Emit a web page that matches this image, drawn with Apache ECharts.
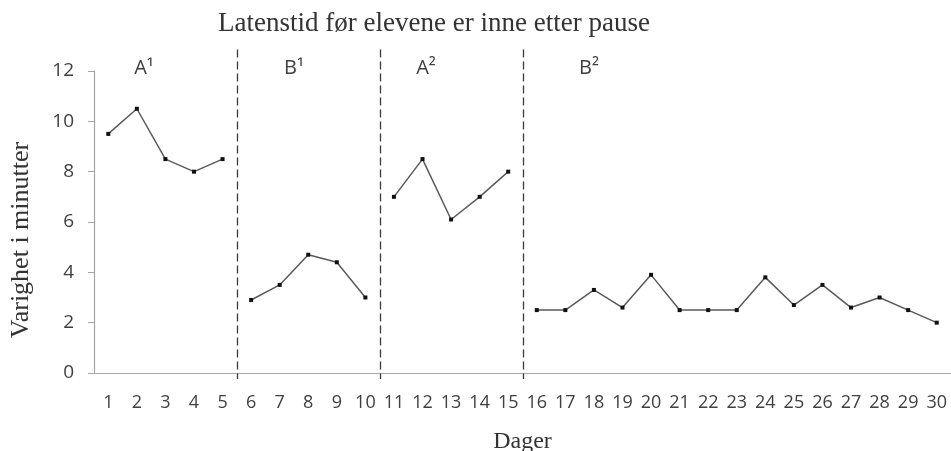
<!DOCTYPE html>
<html><head><meta charset="utf-8">
<script src="https://cdn.jsdelivr.net/npm/echarts@6/dist/echarts.min.js"></script>
<style>html,body{margin:0;padding:0;background:#fff}#c{width:951px;height:451px}</style>
</head><body><div id="c"></div>
<script>
// ---- data ----
const days = ['1','2','3','4','5','6','7','8','9','10','11','12','13','14','15','16','17','18','19','20','21','22','23','24','25','26','27','28','29','30'];
const phaseA1 = [9.5, 10.5, 8.5, 8.0, 8.5];
const phaseB1 = [2.9, 3.5, 4.7, 4.4, 3.0];
const phaseA2 = [7.0, 8.5, 6.1, 7.0, 8.0];
const phaseB2 = [2.5, 2.5, 3.3, 2.6, 3.9, 2.5, 2.5, 2.5, 3.8, 2.7, 3.5, 2.6, 3.0, 2.5, 2.0];
const phaseNames = ['A¹', 'B¹', 'A²', 'B²'];
const yTicks = [0, 2, 4, 6, 8, 10, 12];

// ---- layout constants (annotation placement, not data) ----
const labelDayPos = [1.75, 7.0, 11.62, 17.33]; // in day-widths from left edge
const labelYValue = 12.12;
const dashTopValue = 12.85;

const phases = [phaseA1, phaseB1, phaseA2, phaseB2];
let offset = 0;
const series = phases.map((vals, i) => {
  const data = days.map(() => null);
  vals.forEach((v, j) => { data[offset + j] = v; });
  offset += vals.length;
  return {
    type: 'line', name: phaseNames[i], data: data, connectNulls: false,
    symbol: 'rect', symbolSize: 4, showSymbol: true,
    itemStyle: { color: '#111' },
    lineStyle: { color: '#5a5a5a', width: 1.5 },
    animation: false
  };
});

const chart = echarts.init(document.getElementById('c'));
chart.setOption({
  animation: false,
  title: {
    text: 'Latenstid før elevene er inne etter pause',
    left: 429, top: 5, textAlign: 'center',
    textStyle: { fontFamily: 'Liberation Serif', fontWeight: 'normal', fontSize: 27, color: '#333' }
  },
  grid: { left: 94, right: 0, top: 71, bottom: 78, outerBoundsMode: 'none', containLabel: false },
  xAxis: {
    type: 'category', data: days, boundaryGap: true,
    name: 'Dager', nameLocation: 'middle', nameGap: 57,
    nameTextStyle: { fontFamily: 'Liberation Serif', fontSize: 24, color: '#333' },
    axisLine: { lineStyle: { color: '#a6a6a6', width: 1.2 } },
    axisTick: { interval: 0, length: 6, lineStyle: { color: '#a6a6a6' } },
    axisLabel: { interval: 0, fontFamily: 'Open Sans', fontSize: 18, color: '#404040', margin: 21 }
  },
  yAxis: {
    type: 'value', min: yTicks[0], max: yTicks[yTicks.length - 1], interval: yTicks[1] - yTicks[0],
    name: 'Varighet i minutter', nameLocation: 'middle', nameGap: 60, nameRotate: 90,
    nameTextStyle: { fontFamily: 'Liberation Serif', fontSize: 26, color: '#333', padding: [0, 36, 0, 0] },
    axisLine: { show: true, lineStyle: { color: '#a6a6a6', width: 1.2 } },
    axisTick: { show: true, length: 6, lineStyle: { color: '#a6a6a6' } },
    splitLine: { show: false },
    axisLabel: { fontFamily: 'Open Sans', fontSize: 19, color: '#404040', margin: 20 }
  },
  series: series
});

// annotations: phase dividers and phase labels, positioned via the axes
const px0 = chart.convertToPixel({ xAxisIndex: 0 }, 0);
const px1 = chart.convertToPixel({ xAxisIndex: 0 }, 1);
const step = px1 - px0;
const leftEdge = px0 - step / 2;
const yBottom = chart.convertToPixel({ yAxisIndex: 0 }, 0) + 6;
const yTop = chart.convertToPixel({ yAxisIndex: 0 }, dashTopValue);
const yLabel = chart.convertToPixel({ yAxisIndex: 0 }, labelYValue);
const graphics = [];
let cum = 0;
phases.forEach((vals, i) => {
  cum += vals.length;
  if (i < phases.length - 1) {
    const x = Math.round(leftEdge + cum * step) + 0.5;
    graphics.push({
      type: 'line', silent: true, z: 10,
      shape: { x1: x, y1: yTop, x2: x, y2: yBottom },
      style: { stroke: '#3a3a3a', lineWidth: 1.3, lineDash: [8, 4] }
    });
  }
  graphics.push({
    type: 'text', silent: true, z: 10,
    x: leftEdge + labelDayPos[i] * step, y: yLabel,
    style: { text: phaseNames[i], fontFamily: 'Open Sans', fontSize: 20, fill: '#404040', align: 'center', verticalAlign: 'middle' }
  });
});
chart.setOption({ graphic: graphics });
</script></body></html>
